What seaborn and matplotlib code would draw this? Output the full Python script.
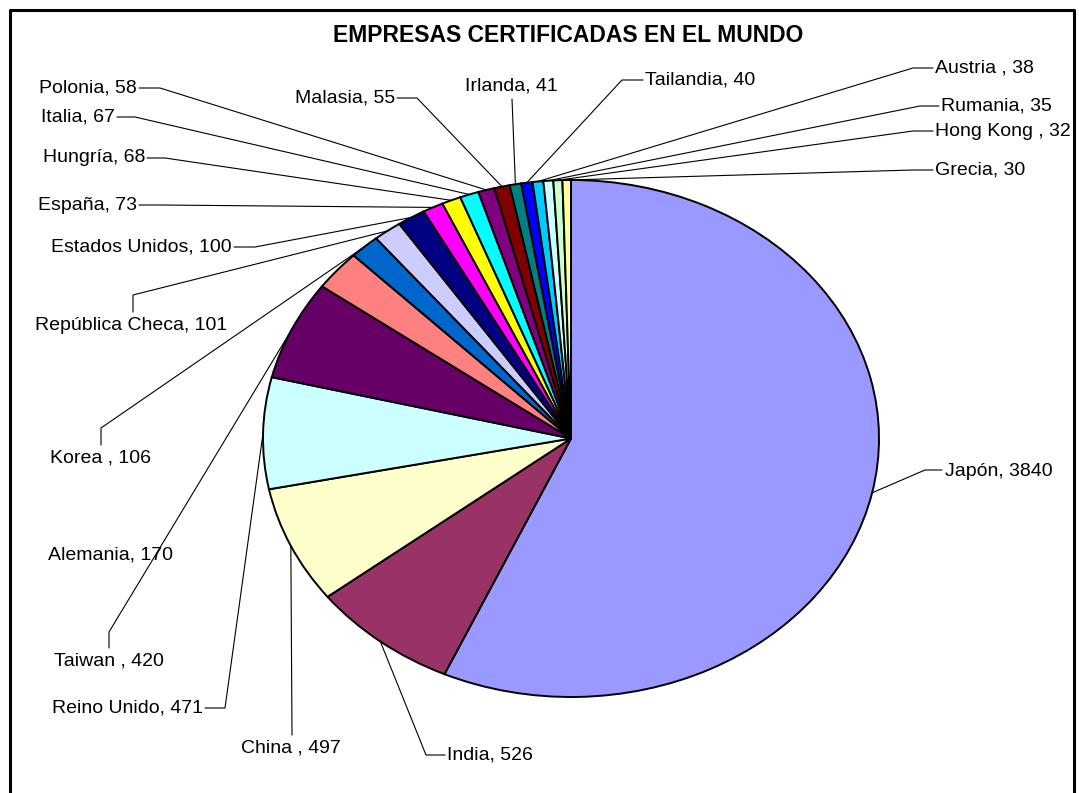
import numpy as np
import matplotlib
matplotlib.use("Agg")
import matplotlib.pyplot as plt
import seaborn as sns

# ── data ─────────────────────────────────────────────────────
countries = ["Japón", "India", "China ", "Reino Unido", "Taiwan ",
             "Alemania", "Korea ", "República Checa", "Estados Unidos",
             "España", "Hungría", "Italia", "Polonia", "Malasia",
             "Irlanda", "Tailandia", "Austria ", "Rumania", "Hong Kong ",
             "Grecia"]
companies = [3840, 526, 497, 471, 420, 170, 106, 101, 100, 73,
             68, 67, 58, 55, 41, 40, 38, 35, 32, 30]
slice_colors = ["#9999FF", "#993366", "#FFFFCC", "#CCFFFF", "#660066",
                "#FF8080", "#0066CC", "#CCCCFF", "#000080", "#FF00FF",
                "#FFFF00", "#00FFFF", "#800080", "#800000", "#008080",
                "#0000FF", "#00CCFF", "#CCFFFF", "#CCFFCC", "#FFFF99"]

# ── layout (figure pixels, origin top-left) ──────────────────
W, H = 1079, 793
PIE_CX, PIE_CY, PIE_RX, PIE_RY = 571, 438.5, 308, 258.5

label_pos = [(945, 471, "left"), (447, 755, "left"), (291, 748, "center"),
             (203, 708, "right"), (109, 661, "center"), (111, 555, "center"),
             (101, 458, "center"), (131, 325, "center"), (232, 247, "right"),
             (137, 205, "right"), (145, 158, "right"), (115, 117, "right"),
             (137, 88, "right"), (395, 98, "right"), (511, 86, "center"),
             (645, 80, "left"), (935, 68, "left"), (941, 106, "left"),
             (935, 131, "left"), (935, 170, "left")]
leaders = [[(925, 470), (942, 470)], [(426, 755), (445, 755)], [(292, 735)],
           [(225, 708), (205, 708)], [(109, 632), (109, 648)], None,
           [(101, 428), (101, 445)], [(133, 295), (133, 312)],
           [(255, 247), (234, 247)], [(160, 205), (139, 205)],
           [(165, 158), (147, 158)], [(135, 117), (117, 117)],
           [(160, 88), (139, 88)], [(417, 98), (397, 98)], [(512, 99)],
           [(622, 80), (643, 80)], [(913, 68), (933, 68)],
           [(920, 106), (939, 106)], [(913, 131), (933, 131)],
           [(913, 170), (933, 170)]]

sns.set_theme(style="white")
plt.rcParams["font.family"] = ["Liberation Sans", "DejaVu Sans"]

fig = plt.figure(figsize=(W / 100, H / 100), dpi=100)
fig.patch.set_facecolor("white")

# pie axes sized to the (stretched) ellipse
ax = fig.add_axes([(PIE_CX - PIE_RX) / W, (H - PIE_CY - PIE_RY) / H,
                   2 * PIE_RX / W, 2 * PIE_RY / H])
wedges, _ = ax.pie(companies, colors=slice_colors, startangle=90,
                   counterclock=False,
                   wedgeprops=dict(edgecolor="black", linewidth=1.4))
ax.set_aspect("auto")
ax.set_xlim(-1, 1)
ax.set_ylim(-1, 1)
for w in wedges:
    w.set_clip_on(False)

# overlay in pixel coordinates for labels, leaders and frame
ov = fig.add_axes([0, 0, 1, 1])
ov.set_xlim(0, W)
ov.set_ylim(H, 0)
ov.axis("off")

to_ov = ov.transData.inverted()
for i, w in enumerate(wedges):
    mid = np.deg2rad((w.theta1 + w.theta2) / 2)
    anchor = to_ov.transform(ax.transData.transform((np.cos(mid), np.sin(mid))))
    if leaders[i] is not None:
        pts = [tuple(anchor)] + leaders[i]
        xs, ys = zip(*pts)
        ov.plot(xs, ys, color="black", linewidth=0.8)
    x, y, ha = label_pos[i]
    ov.text(x, y, f"{countries[i]}, {companies[i]}", ha=ha, va="center",
            fontsize=14, color="black")

ov.text(568, 35, "EMPRESAS CERTIFICADAS EN EL MUNDO", ha="center",
        va="center", fontsize=16.5, fontweight="bold", color="black")

# chart frame (open at the bottom)
ov.plot([10, 10, 1074, 1074], [H, 10, 10, H], color="black", linewidth=2.2)

fig.savefig("out.png", dpi=100)
plt.close(fig)
